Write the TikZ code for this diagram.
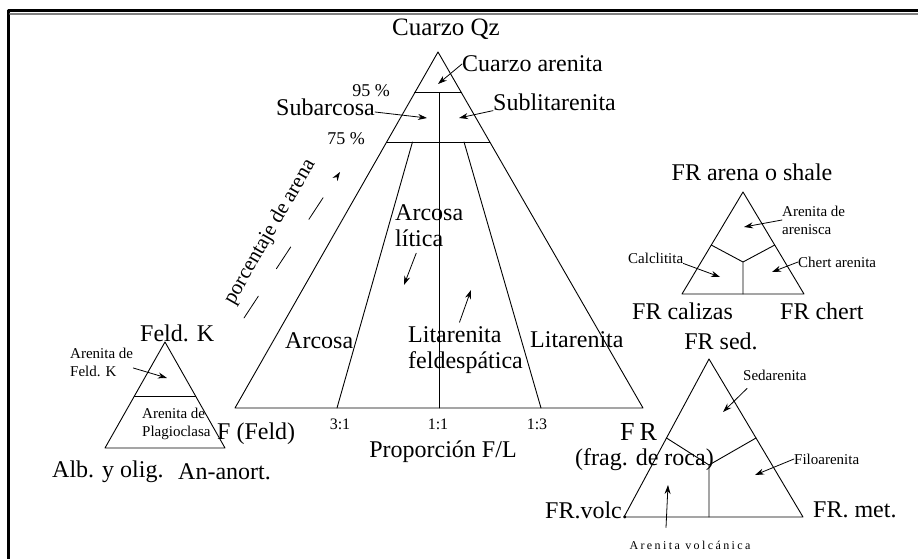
\documentclass[tikz,border=0pt]{standalone}
\usepackage{fontspec}
\setmainfont{Liberation Serif}
\newfontfamily\spacedfont[LetterSpace=20]{Liberation Serif}
\usetikzlibrary{calc,arrows.meta}

\begin{document}
\begin{tikzpicture}[x=1pt, y=-1pt, line join=round, line cap=round, >={Stealth[length=9pt,width=6pt]},
	every node/.style={inner sep=0pt},
	big/.style={font=\fontsize{24}{26}\selectfont},
	med/.style={font=\fontsize{18}{20}\selectfont},
	ratiotxt/.style={font=\fontsize{16}{18}\selectfont},
	smalltxt/.style={font=\fontsize{15}{18}\selectfont, align=left},
	tri/.style={line width=.9pt},
	pointer/.style={->, line width=.8pt}]
	\useasboundingbox (0,0) rectangle (918,559);
	\draw[line width=2.7pt] (8.7,559) -- (8.7,10.3) -- (918,10.3);
	\draw[gray, line width=2pt] (10,13.7) -- (918,13.7);
	
	\coordinate (Qz) at (438,52);
	\coordinate (F) at (235,408);
	\coordinate (L) at (643,408);
	\draw[tri] (Qz) -- (F) -- (L) -- cycle;
	\draw[tri] ($(Qz)!.115!(F)$) coordinate (a95) -- ($(Qz)!.115!(L)$);
	\draw[tri] ($(Qz)!.253!(F)$) -- ($(Qz)!.253!(L)$);
	\coordinate (m11) at ($(F)!.5!(L)$);
	\coordinate (m31) at ($(F)!.25!(L)$);
	\coordinate (m13) at ($(F)!.75!(L)$);
	\draw[tri] (m11) -- (m11 |- a95);
	\draw[tri] (m31) -- ($(Qz)!.253!(m31)$);
	\draw[tri] (m13) -- ($(Qz)!.253!(m13)$);
	
	\coordinate (K) at (165,342);
	\coordinate (Ab) at (105,448);
	\coordinate (An) at (225,448);
	\draw[tri] (K) -- (Ab) -- (An) -- cycle;
	\draw[tri] ($(K)!.51!(Ab)$) -- ($(K)!.51!(An)$);
	
	\coordinate (S) at (743,192);
	\coordinate (Ca) at (682,294);
	\coordinate (Ch) at (804,294);
	\coordinate (s0) at (743,262);
	\draw[tri] (S) -- (Ca) -- (Ch) -- cycle;
	\draw[tri] ($(S)!.52!(Ca)$) -- (s0) -- ($(S)!.52!(Ch)$) (s0) -- (s0 |- Ca);
	
	\coordinate (Sd) at (709,359);
	\coordinate (V) at (624,517);
	\coordinate (M) at (803,517);
	\coordinate (r0) at (709,465);
	\draw[tri] (Sd) -- (V) -- (M) -- cycle;
	\draw[tri] ($(Sd)!.5!(V)$) -- (r0) -- ($(Sd)!.5!(M)$) (r0) -- (r0 |- V);
	
	\node[font=\fontsize{25}{27}\selectfont] (qz) at (446,29) {Cuarzo Qz};
	\node[big, anchor=west] (qzar) at (462,64) {Cuarzo arenita};
	\node[big, anchor=east] (subarc) at (375,107) {Subarcosa};
	\node[big, anchor=west] (sublit) at (493,102) {Sublitarenita};
	\node[med] (p95) at (371,91) {95 \%};
	\node[med] (p75) at (346,139) {75 \%};
	\node[big, anchor=west, align=left] (arclit) at (395,226) {Arcosa\\lítica};
	\node[big, anchor=west] (arcosa) at (285,341) {Arcosa};
	\node[big, anchor=west, align=left] (litfel) at (408,350) {Litarenita\\feldespática};
	\node[big, anchor=west] (litar) at (530,340) {Litarenita};
	\node[font=\fontsize{21}{23}\selectfont, rotate=60] (pct) at (270,232) {porcentaje de arena};
	\node[big, anchor=west] (feld) at (217,434) {F (Feld)};
	\node[ratiotxt] (r31) at (340,424) {3:1};
	\node[ratiotxt] (r11) at (438,424) {1:1};
	\node[ratiotxt] (r13) at (537,424) {1:3};
	\node[big] (prop) at (443,452) {Proporción F/L};
	
	\node[big, anchor=west] (feldk) at (140,333) {Feld. K};
	\node[smalltxt, anchor=west] (arfk) at (70,362) {Arenita de\\Feld. K};
	\node[smalltxt, anchor=west] (arpl) at (142,424) {Arenita de\\Plagioclasa};
	\node[big, anchor=west] (alb) at (52,472) {Alb. y olig.};
	\node[big, anchor=west] (anort) at (178,472) {An-anort.};
	
	\node[big] (fraren) at (752,172) {FR arena o shale};
	\node[smalltxt, anchor=west] (arare) at (782,220) {Arenita de\\arenisca};
	\node[smalltxt, anchor=west] (calcl) at (628,258) {Calclitita};
	\node[smalltxt, anchor=west] (chert) at (798,262) {Chert arenita};
	\node[big, anchor=west] (frcal) at (632,311) {FR calizas};
	\node[big, anchor=west] (frch) at (780,311) {FR chert};
	
	\node[big] (frsed) at (721,341) {FR sed.};
	\node[smalltxt, anchor=west] (sedar) at (743,375) {Sedarenita};
	\node[smalltxt, anchor=west] (filo) at (794,459) {Filoarenita};
	\node[big, anchor=west] (frmet) at (813,510) {FR. met.};
	\node[font=\fontsize{26}{28}\selectfont, anchor=west] (fr) at (620,432) {F\hspace{5pt}R};
	\node[big, anchor=west] (frag) at (575,460) {(frag. de roca)};
	\node[big, anchor=west] (frvolc) at (545,510) {FR.volc.};
	\node[font=\fontsize{12}{14}\spacedfont] (arvol) at (690,545) {Arenita volcánica};
	
	\coordinate (t1) at (438,84);
	\coordinate (t2) at (427,118);
	\coordinate (t3) at (459,118);
	\coordinate (t4) at (404,285);
	\coordinate (t5) at (471,290);
	\coordinate (t6) at (167,378);
	\coordinate (t7) at (744,227);
	\coordinate (t8) at (720,277);
	\coordinate (t9) at (772,272);
	\coordinate (t10) at (723,412);
	\coordinate (t11) at (755,475);
	\coordinate (t12) at (668,485);
	\coordinate (d1) at (244,318);
	\coordinate (d2) at (340,172);
	\draw[pointer] (qzar.west) -- (t1);
	\draw[pointer] ([yshift=-5pt]subarc.east) -- (t2);
	\draw[pointer] (sublit.south west) -- (t3);
	\draw[pointer] ([xshift=-13pt,yshift=-6pt]arclit.south) -- (t4);
	\draw[pointer] ([xshift=-6pt,yshift=4pt]litfel.north) -- (t5);
	\draw[pointer] ([yshift=-6pt]arfk.east) -- (t6);
	\draw[pointer] (arare.west) -- (t7);
	\draw[pointer] (calcl.south east) -- (t8);
	\draw[pointer] (chert.west) -- (t9);
	\draw[pointer] ([xshift=4pt,yshift=-8pt]sedar.south west) -- (t10);
	\draw[pointer] (filo.west) -- (t11);
	\draw[pointer] ([xshift=-24pt,yshift=13pt]arvol.north) -- (t12);
	\draw[pointer, dash pattern=on 26pt off 33pt] (d1) -- (d2);
\end{tikzpicture}
\end{document}
